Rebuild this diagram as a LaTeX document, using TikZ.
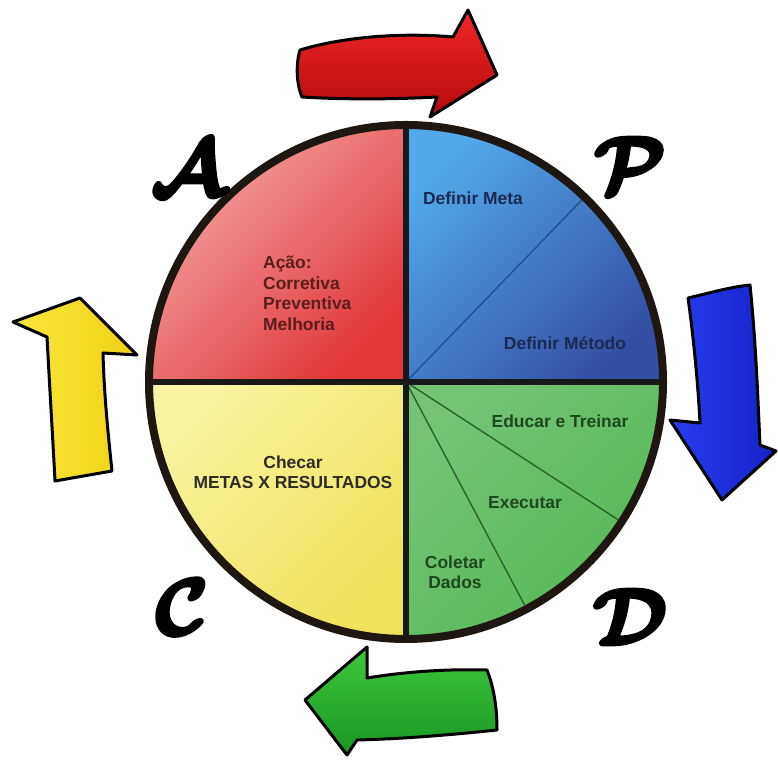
\documentclass[tikz,border=0pt]{standalone}
\usepackage{fix-cm}
\usepackage{fontspec}
\setmainfont{Liberation Sans}
\newcommand{\heavyglyph}[1]{\special{pdf:literal direct 0 0 0 RG 2 Tr 4 w 1 j}#1\special{pdf:literal direct 0 Tr 0.4 w 0 j}}
\begin{document}
\begin{tikzpicture}[x=1bp,y=1bp,
  lbl/.style={font=\fontsize{17.5}{20.5}\selectfont\bfseries, inner sep=0pt},
  bigletter/.style={font=\fontsize{80}{80}\selectfont\boldmath, inner sep=0pt, text=black},
  arrowshape/.style={draw=black, line width=3bp, line join=round},
  divider/.style={draw=black!90, line width=6bp},
  subline/.style={line width=1.4bp}]
\useasboundingbox (0,0) rectangle (778,763);
\coordinate (O) at (406,381);
% quadrants
\shade[top color={rgb,255:red,82;green,168;blue,232}, middle color={rgb,255:red,62;green,132;blue,210}, bottom color={rgb,255:red,52;green,80;blue,165}, shading angle=45]
  (O) -- ++(0:257bp) arc[start angle=0,end angle=90,radius=257bp] -- cycle;
\shade[top color={rgb,255:red,242;green,165;blue,165}, bottom color={rgb,255:red,226;green,55;blue,55}, shading angle=45]
  (O) -- ++(90:257bp) arc[start angle=90,end angle=180,radius=257bp] -- cycle;
\shade[top color={rgb,255:red,247;green,243;blue,160}, bottom color={rgb,255:red,240;green,226;blue,90}, shading angle=45]
  (O) -- ++(180:257bp) arc[start angle=180,end angle=270,radius=257bp] -- cycle;
\shade[top color={rgb,255:red,116;green,196;blue,116}, bottom color={rgb,255:red,84;green,184;blue,84}, shading angle=45]
  (O) -- ++(270:257bp) arc[start angle=270,end angle=360,radius=257bp] -- cycle;
% sub lines
\draw[subline, draw={rgb,255:red,30;green,80;blue,150}] (O) -- ++(46:253bp);
\draw[subline, draw={rgb,255:red,40;green,100;blue,40}] (O) -- ++(-33:253bp);
\draw[subline, draw={rgb,255:red,40;green,100;blue,40}] (O) -- ++(-62:253bp);
% dividers and rim
\draw[divider] (406,124) -- (406,638);
\draw[divider] (149,381) -- (663,381);
\draw[line width=8bp, draw={rgb,255:red,30;green,22;blue,16}] (O) circle[radius=257bp];
% texts
\node[lbl, text={rgb,255:red,26;green,42;blue,80}] (meta) at (473,565) {Definir Meta};
\node[lbl, text={rgb,255:red,26;green,42;blue,80}] (metodo) at (565,420) {Definir Método};
\node[lbl, text={rgb,255:red,30;green,72;blue,30}] (educar) at (560,342) {Educar e Treinar};
\node[lbl, text={rgb,255:red,30;green,72;blue,30}] (exec) at (525,260) {Executar};
\node[lbl, text={rgb,255:red,30;green,72;blue,30}, align=center] (coletar) at (455,191) {Coletar\\Dados};
\node[lbl, text={rgb,255:red,90;green,30;blue,30}, align=left, anchor=north west] (acao) at (263,507) {Ação:\\Corretiva\\Preventiva\\Melhoria};
\node[lbl, text={rgb,255:red,45;green,45;blue,40}, align=center] (checar) at (293,291) {Checar\\METAS X RESULTADOS};
% big letters
\node[bigletter] (A) at (188,595) {\heavyglyph{$\mathcal{A}$}};
\node[bigletter] (P) at (630,598) {\heavyglyph{$\mathcal{P}$}};
\node[bigletter] (C) at (182,156) {\heavyglyph{$\mathcal{C}$}};
\node[bigletter] (D) at (630,146) {\heavyglyph{$\mathcal{D}$}};
% arrows
\shade[arrowshape, top color={rgb,255:red,240;green,40;blue,40}, bottom color={rgb,255:red,180;green,10;blue,10}]
  (300,713) .. controls (350,728) and (410,730) .. (453,726) -- (468,753) -- (497,688) -- (430,646) -- (437,666)
  .. controls (400,664) and (350,663) .. (302,666) .. controls (296,680) and (296,700) .. (300,713) -- cycle;
\shade[arrowshape, left color={rgb,255:red,40;green,60;blue,240}, right color={rgb,255:red,20;green,35;blue,200}]
  (688,465) .. controls (710,470) and (730,476) .. (750,478) .. controls (756,420) and (758,360) .. (760,318)
  -- (776,312) -- (722,263) -- (670,343) -- (700,340) .. controls (698,380) and (693,430) .. (688,465) -- cycle;
\shade[arrowshape, left color={rgb,255:red,250;green,230;blue,60}, right color={rgb,255:red,240;green,210;blue,20}]
  (80,465) -- (13,441) -- (47,426) .. controls (50,370) and (53,320) .. (55,282) -- (112,292)
  .. controls (108,330) and (104,370) .. (103,410) -- (137,408) -- cycle;
\shade[arrowshape, top color={rgb,255:red,60;green,200;blue,60}, bottom color={rgb,255:red,25;green,150;blue,35}]
  (305,63) -- (367,116) -- (367,85) .. controls (410,92) and (450,94) .. (487,93)
  .. controls (494,75) and (497,55) .. (497,33) .. controls (450,28) and (400,24) .. (357,23) -- (347,8) -- cycle;
\end{tikzpicture}
\end{document}
